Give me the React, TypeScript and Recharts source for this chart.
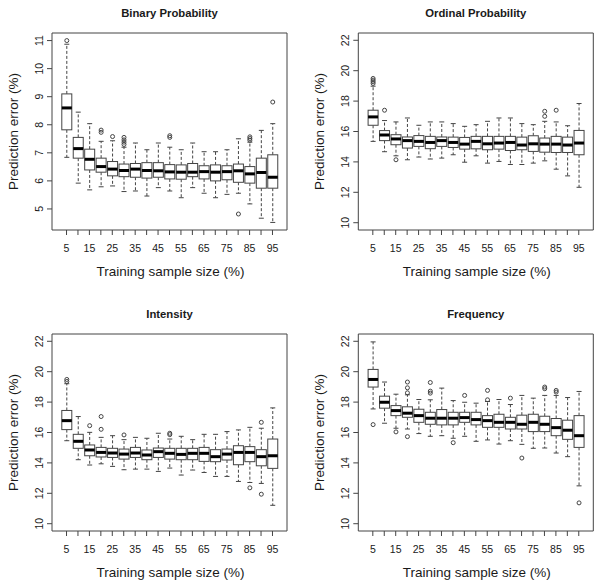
import React from "react";
import { ComposedChart, Bar, XAxis, YAxis } from "recharts";

const sizes = [5, 10, 15, 20, 25, 30, 35, 40, 45, 50, 55, 60, 65, 70, 75, 80, 85, 90, 95];

// Binary Probability
const binaryLow = [6.84, 5.92, 5.68, 5.79, 5.82, 5.62, 5.64, 5.46, 5.76, 5.64, 5.4, 5.76, 5.56, 5.4, 5.52, 5.56, 5.18, 4.67, 4.52];
const binaryQ1 = [7.82, 6.81, 6.39, 6.31, 6.18, 6.15, 6.13, 6.1, 6.13, 6.07, 6.06, 6.15, 6.07, 6.0, 6.04, 5.95, 5.92, 5.74, 5.74];
const binaryMed = [8.6, 7.15, 6.77, 6.51, 6.42, 6.37, 6.42, 6.37, 6.36, 6.32, 6.31, 6.31, 6.33, 6.31, 6.33, 6.36, 6.25, 6.3, 6.13];
const binaryQ3 = [9.1, 7.55, 7.13, 6.81, 6.69, 6.6, 6.62, 6.65, 6.65, 6.58, 6.57, 6.62, 6.54, 6.57, 6.54, 6.6, 6.51, 6.81, 6.93];
const binaryHigh = [10.87, 8.45, 8.04, 7.41, 7.43, 7.2, 7.35, 7.11, 7.35, 7.2, 7.11, 7.35, 7.04, 7.04, 7.11, 7.5, 7.38, 7.8, 8.04];
const binaryOut = [[11.0], [], [], [7.81, 7.73], [7.58], [7.55, 7.46, 7.38, 7.3], [], [], [], [7.61, 7.55], [], [], [], [], [], [4.82], [7.57, 7.51, 7.45], [], [8.81]];

// Ordinal Probability
const ordinalLow = [15.35, 14.67, 14.4, 14.14, 14.32, 14.19, 14.25, 14.47, 13.98, 14.4, 13.92, 14.03, 13.83, 13.83, 13.92, 14.07, 13.52, 13.08, 12.33];
const ordinalQ1 = [16.41, 15.4, 15.13, 14.91, 15.02, 14.87, 15.02, 14.95, 14.84, 14.86, 14.8, 14.84, 14.75, 14.8, 14.69, 14.64, 14.62, 14.62, 14.47];
const ordinalMed = [16.96, 15.77, 15.51, 15.4, 15.35, 15.28, 15.4, 15.28, 15.17, 15.35, 15.19, 15.24, 15.28, 15.11, 15.19, 15.17, 15.17, 15.11, 15.24];
const ordinalQ3 = [17.4, 16.06, 15.79, 15.64, 15.73, 15.68, 15.64, 15.63, 15.61, 15.68, 15.68, 15.68, 15.68, 15.63, 15.72, 15.57, 15.68, 15.63, 16.07];
const ordinalHigh = [18.98, 16.72, 16.63, 16.89, 16.41, 16.63, 16.63, 16.52, 16.34, 16.45, 16.67, 16.89, 16.89, 16.52, 16.45, 16.67, 16.63, 16.38, 17.84];
const ordinalOut = [[19.49, 19.38, 19.27, 19.16], [17.4], [14.14], [], [], [], [], [], [], [], [], [], [], [], [], [17.33, 17.0], [17.4], [], []];

// Intensity
const intensityLow = [15.46, 14.21, 13.86, 13.94, 13.77, 13.55, 13.59, 13.59, 13.44, 13.66, 13.2, 13.53, 13.37, 13.11, 13.11, 12.78, 12.71, 12.65, 11.21];
const intensityQ1 = [16.19, 14.96, 14.47, 14.39, 14.36, 14.25, 14.36, 14.21, 14.36, 14.25, 14.21, 14.21, 14.1, 14.08, 14.19, 13.88, 14.08, 13.81, 13.64];
const intensityMed = [16.78, 15.42, 14.85, 14.69, 14.65, 14.58, 14.65, 14.52, 14.74, 14.63, 14.56, 14.63, 14.63, 14.41, 14.58, 14.69, 14.69, 14.41, 14.47];
const intensityQ3 = [17.45, 15.88, 15.18, 15.02, 14.96, 14.91, 15.02, 14.85, 14.98, 14.96, 14.96, 14.96, 15.02, 14.87, 14.91, 15.13, 15.07, 14.87, 15.57];
const intensityHigh = [19.21, 17.05, 16.01, 15.68, 15.79, 15.53, 15.68, 15.62, 15.95, 15.57, 15.75, 15.53, 15.88, 15.88, 16.06, 16.17, 16.34, 16.28, 17.62];
const intensityOut = [[19.49, 19.36], [], [16.45], [17.05, 16.21], [], [15.84], [], [], [], [15.95, 15.86], [], [], [], [], [], [], [12.36], [16.67, 11.94], []];

// Frequency
const frequencyLow = [17.55, 16.61, 16.28, 16.23, 15.93, 15.75, 15.79, 15.62, 15.75, 15.42, 15.51, 15.24, 15.46, 15.22, 14.96, 14.98, 14.65, 14.41, 12.49];
const frequencyQ1 = [18.99, 17.6, 17.11, 17.0, 16.67, 16.54, 16.5, 16.5, 16.67, 16.5, 16.34, 16.34, 16.23, 16.23, 16.06, 16.06, 15.79, 15.55, 15.02];
const frequencyMed = [19.49, 17.99, 17.44, 17.27, 17.11, 16.94, 16.94, 16.94, 16.98, 16.85, 16.78, 16.67, 16.67, 16.54, 16.67, 16.54, 16.32, 16.15, 15.79];
const frequencyQ3 = [20.15, 18.39, 17.77, 17.69, 17.53, 17.33, 17.51, 17.33, 17.33, 17.33, 17.11, 17.2, 17.0, 17.14, 17.2, 17.07, 16.92, 16.81, 17.11];
const frequencyHigh = [21.96, 19.32, 18.52, 18.48, 18.17, 18.15, 18.92, 18.1, 17.99, 17.93, 18.04, 18.17, 17.84, 18.44, 18.26, 18.44, 18.44, 18.3, 18.7];
const frequencyOut = [[16.52], [], [16.04], [19.32, 18.94, 18.61, 15.73], [], [19.29, 18.72, 18.59], [], [15.33], [18.44], [], [18.77, 18.15], [], [18.26], [14.32], [], [18.99, 18.88], [18.77, 18.66], [], [11.37]];

const binaryTicks = [5, 6, 7, 8, 9, 10, 11];
const errorTicks = [10, 12, 14, 16, 18, 20, 22];

const FONT = '"Liberation Sans", Arial, Helvetica, sans-serif';
const LINE = "#444";
const TEXT = "#1a1a1a";
const PLOT_W = 235;
const PLOT_H = 197;
const TOP_H = 33;
const BOTTOM_H = 60;

const BoxShape = (props: any) => {
  const { x, y, width, height, payload } = props;
  const [lo, hi] = payload.range;
  const top = Math.min(y, y + height);
  const h = Math.abs(height);
  const py = (v: number) => top + ((hi - v) / (hi - lo)) * h;
  const cx = x + width / 2;
  const half = width / 2;
  const cap = width / 4;
  return (
    <g>
      <line x1={cx} x2={cx} y1={py(payload.q3)} y2={py(payload.high)} stroke={LINE} strokeDasharray="3 2" />
      <line x1={cx} x2={cx} y1={py(payload.q1)} y2={py(payload.low)} stroke={LINE} strokeDasharray="3 2" />
      <line x1={cx - cap} x2={cx + cap} y1={py(payload.high)} y2={py(payload.high)} stroke={LINE} />
      <line x1={cx - cap} x2={cx + cap} y1={py(payload.low)} y2={py(payload.low)} stroke={LINE} />
      <rect x={cx - half} y={py(payload.q3)} width={width} height={py(payload.q1) - py(payload.q3)} fill="#fff" stroke={LINE} />
      <line x1={cx - half} x2={cx + half} y1={py(payload.med)} y2={py(payload.med)} stroke="#000" strokeWidth={3} />
      {payload.out.map((v: number, k: number) => (
        <circle key={k} cx={cx} cy={py(v)} r={2} fill="none" stroke={LINE} />
      ))}
    </g>
  );
};

interface PanelProps {
  title: string;
  low: number[];
  q1: number[];
  med: number[];
  q3: number[];
  high: number[];
  out: number[][];
  domain: [number, number];
  ticks: number[];
  left: number;
  top: number;
  axisW: number;
}

const Panel = ({ title, low, q1, med, q3, high, out, domain, ticks, left, top, axisW }: PanelProps) => {
  const rows = sizes.map((s, i) => ({
    size: s,
    low: low[i],
    q1: q1[i],
    med: med[i],
    q3: q3[i],
    high: high[i],
    out: out[i],
    range: [Math.min(low[i], ...out[i]), Math.max(high[i], ...out[i])],
  }));
  const rightW = 300 - axisW - PLOT_W;
  const plotCx = axisW + PLOT_W / 2;
  const pad = { left: 8.8, right: 8.8 };
  return (
    <div style={{ position: "absolute", left, top }}>
      <ComposedChart width={300} height={TOP_H + PLOT_H + BOTTOM_H} data={rows} margin={{ top: 0, right: 0, bottom: 0, left: 0 }}>
        <XAxis
          dataKey="size"
          type="category"
          interval={0}
          height={BOTTOM_H}
          padding={pad}
          tickSize={5}
          tickMargin={10}
          tick={{ fontSize: 10.5, fill: TEXT }}
          tickLine={{ stroke: LINE }}
          axisLine={{ stroke: LINE }}
          tickFormatter={(v: any, i: number) => (i % 2 === 0 ? String(v) : "")}
          label={() => (
            <text x={plotCx + 1} y={TOP_H + PLOT_H + 46.4} textAnchor="middle" fontSize={13.5} fill={TEXT}>
              Training sample size (%)
            </text>
          )}
        />
        <XAxis
          xAxisId="top"
          orientation="top"
          dataKey="size"
          type="category"
          height={TOP_H}
          padding={pad}
          tick={false}
          tickLine={false}
          axisLine={{ stroke: LINE }}
          label={() => (
            <text x={plotCx} y={TOP_H - 16.3} textAnchor="middle" fontSize={11.3} fontWeight="bold" fill={TEXT}>
              {title}
            </text>
          )}
        />
        <YAxis
          type="number"
          domain={domain}
          ticks={ticks}
          allowDataOverflow
          width={axisW}
          tickSize={5}
          tickMargin={4}
          tickLine={{ stroke: LINE }}
          axisLine={{ stroke: LINE }}
          tick={(p: any) => (
            <text
              x={p.x}
              y={p.y}
              transform={`rotate(-90 ${p.x} ${p.y})`}
              textAnchor="middle"
              fontSize={10.5}
              fill={TEXT}
            >
              {p.payload.value}
            </text>
          )}
          label={() => (
            <text
              x={axisW - 34.3}
              y={TOP_H + PLOT_H / 2}
              transform={`rotate(-90 ${axisW - 34.3} ${TOP_H + PLOT_H / 2})`}
              textAnchor="middle"
              fontSize={13.5}
              fill={TEXT}
            >
              Prediction error (%)
            </text>
          )}
        />
        <YAxis
          yAxisId="right"
          orientation="right"
          type="number"
          domain={domain}
          allowDataOverflow
          width={rightW}
          tick={false}
          tickLine={false}
          axisLine={{ stroke: LINE }}
        />
        <Bar dataKey="range" barSize={10} shape={BoxShape} isAnimationActive={false} />
      </ComposedChart>
    </div>
  );
};

export default function App() {
  return (
    <div style={{ position: "absolute", left: 0, top: 0, width: 600, height: 587, background: "#fff", fontFamily: FONT }}>
      <Panel title="Binary Probability" low={binaryLow} q1={binaryQ1} med={binaryMed} q3={binaryQ3} high={binaryHigh} out={binaryOut} domain={[4.25, 11.27]} ticks={binaryTicks} left={0} top={0} axisW={52} />
      <Panel title="Ordinal Probability" low={ordinalLow} q1={ordinalQ1} med={ordinalMed} q3={ordinalQ3} high={ordinalHigh} out={ordinalOut} domain={[9.52, 22.48]} ticks={errorTicks} left={300} top={0} axisW={58.3} />
      <Panel title="Intensity" low={intensityLow} q1={intensityQ1} med={intensityMed} q3={intensityQ3} high={intensityHigh} out={intensityOut} domain={[9.52, 22.48]} ticks={errorTicks} left={0} top={301} axisW={52} />
      <Panel title="Frequency" low={frequencyLow} q1={frequencyQ1} med={frequencyMed} q3={frequencyQ3} high={frequencyHigh} out={frequencyOut} domain={[9.52, 22.48]} ticks={errorTicks} left={300} top={301} axisW={58.3} />
    </div>
  );
}
